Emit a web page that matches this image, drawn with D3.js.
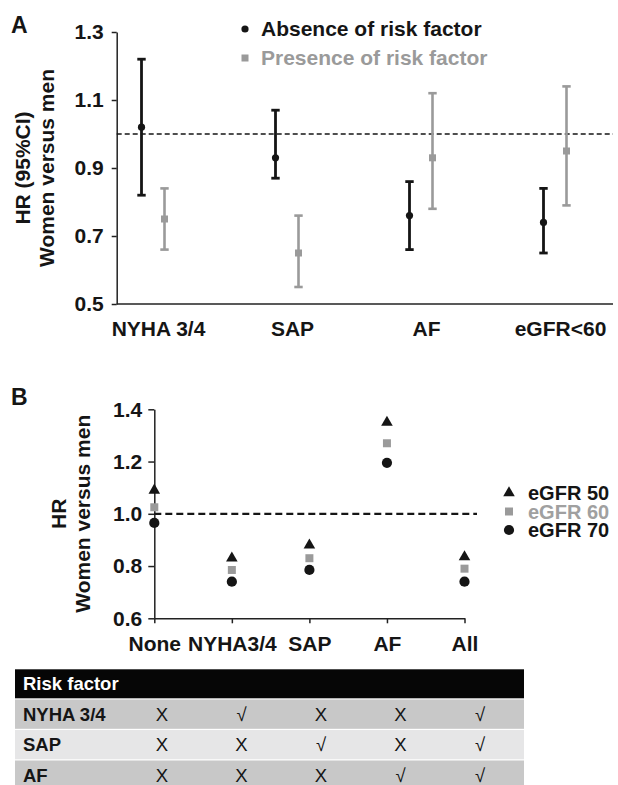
<!DOCTYPE html>
<html>
<head>
<meta charset="utf-8">
<script src="https://cdn.jsdelivr.net/npm/d3@7"></script>
<style>
  body { margin: 0; background: #fff; }
  svg text { font-family: "Liberation Sans", Arial, Helvetica, sans-serif; }
</style>
</head>
<body>
<div id="chart"></div>
<script>
// Panel A: HR (95% CI) by risk factor
const catsA = ["NYHA 3/4", "SAP", "AF", "eGFR<60"];
const absHR = [1.02, 0.93, 0.76, 0.74];
const absLo = [0.82, 0.87, 0.66, 0.65];
const absHi = [1.22, 1.07, 0.86, 0.84];
const presHR = [0.75, 0.65, 0.93, 0.95];
const presLo = [0.66, 0.55, 0.78, 0.79];
const presHi = [0.84, 0.76, 1.12, 1.14];
const ticksA = [0.5, 0.7, 0.9, 1.1, 1.3];

// Panel B: HR by eGFR and combination of risk factors
const catsB = ["None", "NYHA3/4", "SAP", "AF", "All"];
const egfr50 = [1.09, 0.83, 0.88, 1.35, 0.835];
const egfr60 = [1.025, 0.785, 0.83, 1.27, 0.79];
const egfr70 = [0.965, 0.74, 0.785, 1.195, 0.74];
const ticksB = [0.6, 0.8, 1.0, 1.2, 1.4];

// Table under panel B
const tableRows = ["NYHA 3/4", "SAP", "AF"];
const tableMarks = [
    ["X", "√", "X", "X", "√"],
    ["X", "X", "√", "X", "√"],
    ["X", "X", "X", "√", "√"]
];

const W = 618, H = 785;
const black = "#151515", grey = "#9a9a9a";
const fs = "21px";

const svg = d3.select("#chart").append("svg")
    .attr("width", W)
    .attr("height", H);

svg.append("rect").attr("width", W).attr("height", H).attr("fill", "#fff");

// ---------- Panel A ----------
const axLeftA = 116.7, axRightA = 613;
const yA = d3.scaleLinear().domain([0.5, 1.3]).range([304, 32]);
const xA = d3.scalePoint().domain(catsA).range([158, 560]);
const offAbs = -16.5, offPres = 6.5;

svg.append("text").attr("x", 11).attr("y", 33)
    .attr("font-size", "23px").attr("font-weight", "bold").attr("fill", black).text("A");

const gyA = svg.append("g")
    .attr("transform", `translate(${axLeftA},0)`)
    .call(d3.axisLeft(yA).tickValues(ticksA).tickFormat(d3.format(".1f"))
        .tickSize(5).tickSizeOuter(0).tickPadding(8));
gyA.selectAll("text").attr("font-size", fs).attr("font-weight", "bold").attr("fill", black)
    .style("font-family", "'Liberation Sans', Arial, sans-serif");
gyA.selectAll("line, path").attr("stroke", "#222").attr("stroke-width", 1.5);

// x baseline
svg.append("line")
    .attr("x1", axLeftA).attr("x2", axRightA)
    .attr("y1", yA(0.5)).attr("y2", yA(0.5))
    .attr("stroke", "#222").attr("stroke-width", 1.5);

const gxA = svg.append("g")
    .attr("transform", `translate(0,${yA(0.5)})`)
    .call(d3.axisBottom(xA).tickSize(0).tickPadding(17));
gxA.select(".domain").remove();
gxA.selectAll("text").attr("font-size", fs).attr("font-weight", "bold").attr("fill", black)
    .style("font-family", "'Liberation Sans', Arial, sans-serif");

// reference line at HR = 1
svg.append("line")
    .attr("x1", axLeftA).attr("x2", axRightA)
    .attr("y1", yA(1)).attr("y2", yA(1))
    .attr("stroke", black).attr("stroke-width", 1.5)
    .attr("stroke-dasharray", "5,3");

// y label
const yLabA = svg.append("text")
    .attr("transform", `translate(23,${yA(0.9)}) rotate(-90)`)
    .attr("text-anchor", "middle").attr("font-size", fs).attr("font-weight", "bold").attr("fill", black);
yLabA.append("tspan").attr("x", 0).attr("dy", "0.35em").text("HR (95%CI)");
yLabA.append("tspan").attr("x", 0).attr("dy", "24").text("Women versus men");

function errorBars(hr, lo, hi, off, color, sw) {
    const g = svg.append("g");
    catsA.forEach((c, i) => {
        const cx = xA(c) + off;
        g.append("line").attr("x1", cx).attr("x2", cx)
            .attr("y1", yA(lo[i])).attr("y2", yA(hi[i]))
            .attr("stroke", color).attr("stroke-width", sw);
        [lo[i], hi[i]].forEach(v => {
            g.append("line").attr("x1", cx - 4.2).attr("x2", cx + 4.2)
                .attr("y1", yA(v)).attr("y2", yA(v))
                .attr("stroke", color).attr("stroke-width", sw);
        });
    });
    return g;
}

errorBars(absHR, absLo, absHi, offAbs, black, 2.8)
    .selectAll("circle").data(absHR).enter().append("circle")
    .attr("cx", (d, i) => xA(catsA[i]) + offAbs)
    .attr("cy", d => yA(d))
    .attr("r", 3.6).attr("fill", black);

errorBars(presHR, presLo, presHi, offPres, grey, 2.6)
    .selectAll("rect").data(presHR).enter().append("rect")
    .attr("x", (d, i) => xA(catsA[i]) + offPres - 3.5)
    .attr("y", d => yA(d) - 3.5)
    .attr("width", 7).attr("height", 7).attr("fill", grey);

// legend A
svg.append("circle").attr("cx", 245).attr("cy", 29).attr("r", 3.6).attr("fill", black);
svg.append("text").attr("x", 261).attr("y", 36)
    .attr("font-size", fs).attr("font-weight", "bold").attr("fill", black)
    .text("Absence of risk factor");
svg.append("rect").attr("x", 241.5).attr("y", 54.5).attr("width", 7).attr("height", 7).attr("fill", grey);
svg.append("text").attr("x", 261).attr("y", 65)
    .attr("font-size", fs).attr("font-weight", "bold").attr("fill", grey)
    .text("Presence of risk factor");

// ---------- Panel B ----------
const yB = d3.scaleLinear().domain([0.6, 1.4]).range([618.3, 409.3]);
const xB = d3.scalePoint().domain(catsB).range([154.3, 464.5]);

svg.append("text").attr("x", 11).attr("y", 405)
    .attr("font-size", "23px").attr("font-weight", "bold").attr("fill", black).text("B");

const gyB = svg.append("g")
    .attr("transform", `translate(${xB.range()[0]},0)`)
    .call(d3.axisLeft(yB).tickValues(ticksB).tickFormat(d3.format(".1f"))
        .tickSize(6).tickSizeOuter(0).tickPadding(6));
gyB.selectAll("text").attr("font-size", fs).attr("font-weight", "bold").attr("fill", black)
    .style("font-family", "'Liberation Sans', Arial, sans-serif");
gyB.selectAll("line, path").attr("stroke", "#222").attr("stroke-width", 1.5);

const gxB = svg.append("g")
    .attr("transform", `translate(0,${yB(0.6)})`)
    .call(d3.axisBottom(xB).tickSize(5).tickSizeOuter(0).tickPadding(13));
gxB.selectAll("text").attr("font-size", fs).attr("font-weight", "bold").attr("fill", black)
    .style("font-family", "'Liberation Sans', Arial, sans-serif");
gxB.selectAll("line, path").attr("stroke", "#222").attr("stroke-width", 1.5);

svg.append("line")
    .attr("x1", xB.range()[0]).attr("x2", 477)
    .attr("y1", yB(1)).attr("y2", yB(1))
    .attr("stroke", black).attr("stroke-width", 2.2)
    .attr("stroke-dasharray", "7,4");

const yLabB = svg.append("text")
    .attr("transform", `translate(59,${yB(1)}) rotate(-90)`)
    .attr("text-anchor", "middle").attr("font-size", fs).attr("font-weight", "bold").attr("fill", black);
yLabB.append("tspan").attr("x", 0).attr("dy", "0.35em").text("HR");
yLabB.append("tspan").attr("x", 0).attr("dy", "24").text("Women versus men");

const seriesB = [
    { vals: egfr50, name: "eGFR 50", shape: d3.symbolTriangle, size: 58, color: black, text: black },
    { vals: egfr60, name: "eGFR 60", shape: d3.symbolSquare, size: 64, color: grey, text: "#a0a0a0" },
    { vals: egfr70, name: "eGFR 70", shape: d3.symbolCircle, size: 82, color: black, text: black }
];

seriesB.forEach((s, k) => {
    svg.append("g").selectAll("path").data(s.vals).enter().append("path")
        .attr("d", d3.symbol().type(s.shape).size(s.size))
        .attr("transform", (d, i) => `translate(${xB(catsB[i])},${yB(d)})`)
        .attr("fill", s.color);
    // legend
    const ly = 493 + k * 18.5;
    svg.append("path")
        .attr("d", d3.symbol().type(s.shape).size(s.size))
        .attr("transform", `translate(509,${ly})`)
        .attr("fill", s.color);
    svg.append("text").attr("x", 528).attr("y", ly).attr("dy", "0.35em")
        .attr("font-size", "20px").attr("font-weight", "bold").attr("fill", s.text)
        .text(s.name);
});

// ---------- Table ----------
const tX0 = 15, tX1 = 524;
const colX = d3.scalePoint().domain(catsB).range([162, 480]);
const headTop = 669.3, headH = 29, rowH = 29.3, gap = 1.2;
const rowFill = ["#c8c8c8", "#e6e6e7", "#c8c8c8"];

svg.append("rect").attr("x", tX0).attr("y", headTop)
    .attr("width", tX1 - tX0).attr("height", headH).attr("fill", "#060606");
svg.append("text").attr("x", 23).attr("y", headTop + headH / 2).attr("dy", "0.35em")
    .attr("font-size", "18.5px").attr("font-weight", "bold").attr("fill", "#fff")
    .text("Risk factor");

tableRows.forEach((r, i) => {
    const top = headTop + headH + gap + i * (rowH + gap);
    svg.append("rect").attr("x", tX0).attr("y", top)
        .attr("width", tX1 - tX0).attr("height", rowH).attr("fill", rowFill[i]);
    svg.append("text").attr("x", 23).attr("y", top + rowH / 2).attr("dy", "0.35em")
        .attr("font-size", "18.5px").attr("font-weight", "bold").attr("fill", black)
        .text(r);
    svg.append("g").selectAll("text").data(tableMarks[i]).enter().append("text")
        .attr("x", (d, j) => colX(catsB[j]))
        .attr("y", top + rowH / 2).attr("dy", "0.35em")
        .attr("text-anchor", "middle")
        .attr("font-size", "18.5px").attr("fill", black)
        .text(d => d);
});
</script>
</body>
</html>
